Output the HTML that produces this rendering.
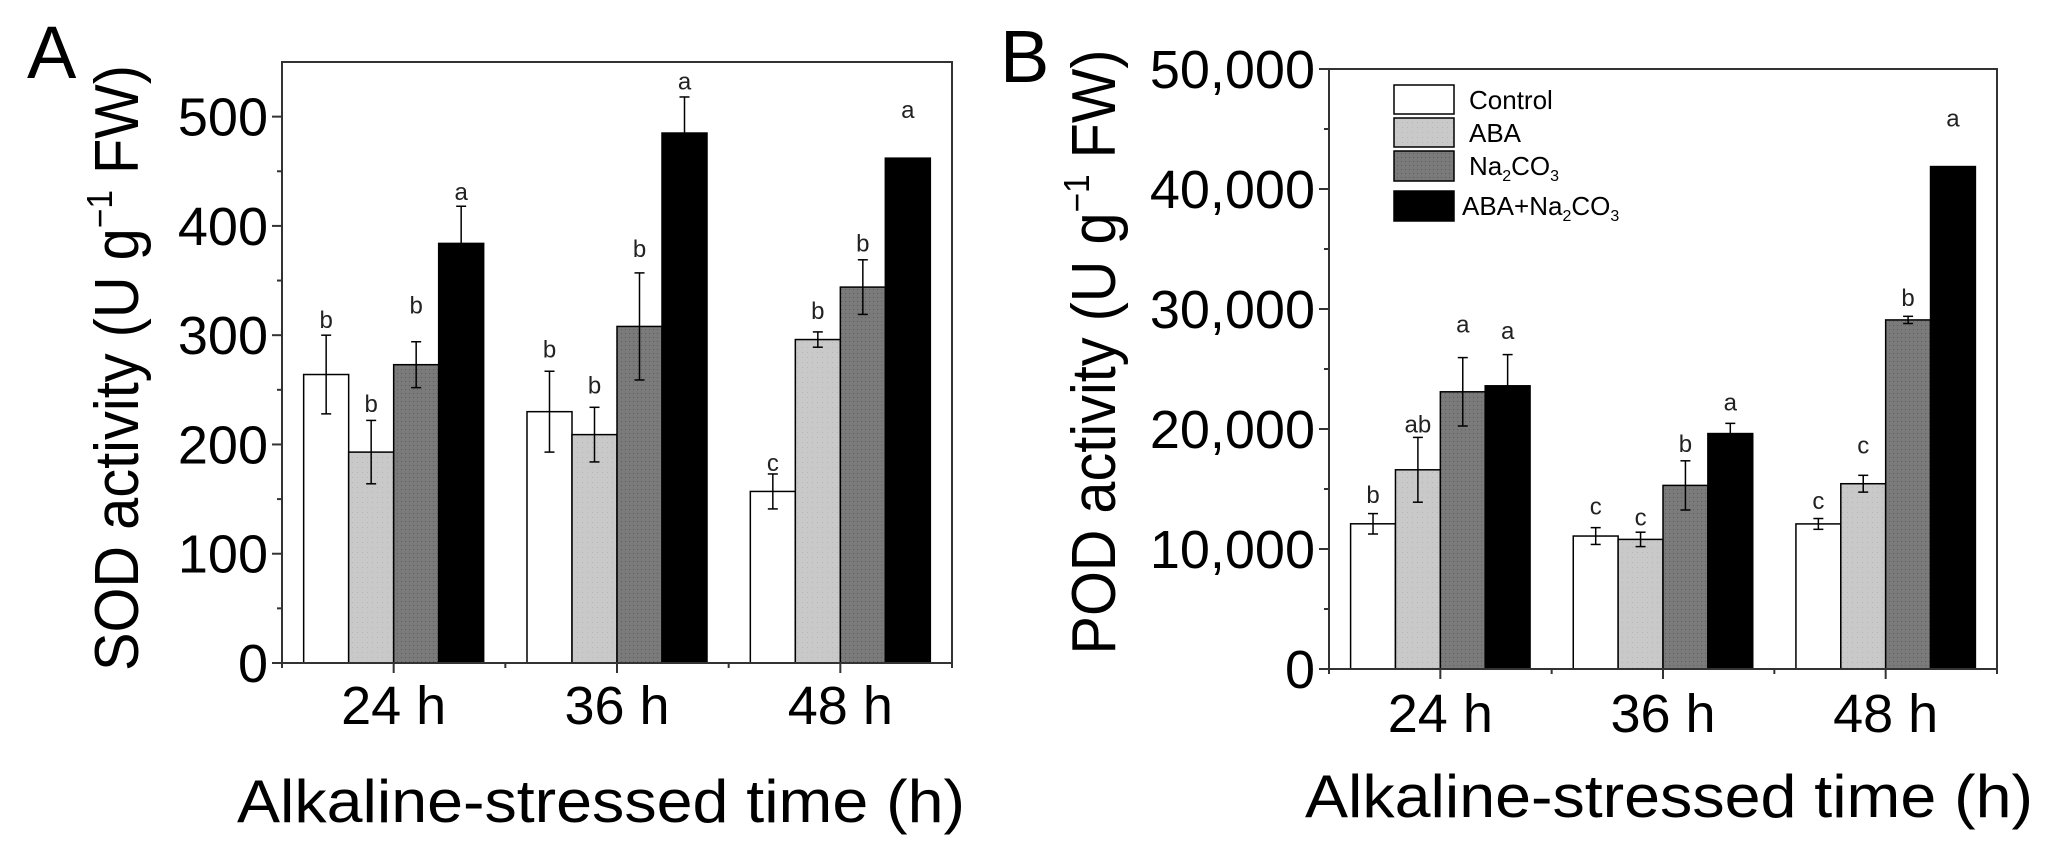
<!DOCTYPE html>
<html><head><meta charset="utf-8">
<style>
html,body{margin:0;padding:0;background:#fff;}
svg{display:block;font-family:"Liberation Sans",Arial,sans-serif;}
</style></head>
<body>
<svg id="fig" width="2058" height="866" viewBox="0 0 2058 866" xmlns="http://www.w3.org/2000/svg">
<defs>
<pattern id="dots" width="4" height="4" patternUnits="userSpaceOnUse">
<rect width="4" height="4" fill="#7a7a7a"/><rect x="1" y="1" width="1" height="1" fill="#5e5e5e"/>
</pattern>
<pattern id="dotsLight" width="5" height="5" patternUnits="userSpaceOnUse">
<rect width="5" height="5" fill="#c9c9c9"/><rect x="2" y="2" width="1" height="1" fill="#b8b8b8"/>
</pattern>
</defs>
<text x="27" y="78" font-size="74">A</text>
<text x="1000" y="82" font-size="74">B</text>
<g id="panelA"></g>
<g id="panelB"></g>
<g>
 <rect x="1394" y="85" width="60" height="29" fill="#fff" stroke="#000" stroke-width="1.5"/>
 <text x="1469" y="109" font-size="26">Control</text>
 <rect x="1394" y="118" width="60" height="29" fill="url(#dotsLight)" stroke="#000" stroke-width="1.5"/>
 <text x="1469" y="142" font-size="26">ABA</text>
 <rect x="1394" y="151" width="60" height="30" fill="url(#dots)" stroke="#000" stroke-width="1.5"/>
 <text x="1469" y="175" font-size="26">Na<tspan font-size="16" dy="6">2</tspan><tspan dy="-6">CO</tspan><tspan font-size="16" dy="6">3</tspan></text>
 <rect x="1394" y="191" width="60" height="30" fill="#000" stroke="#000" stroke-width="1.5"/>
 <text x="1462" y="215" font-size="26">ABA+Na<tspan font-size="16" dy="6">2</tspan><tspan dy="-6">CO</tspan><tspan font-size="16" dy="6">3</tspan></text>
</g>
</svg>
<script>
// ---- data ----
const categories = ["24 h", "36 h", "48 h"];
const seriesNames = ["Control", "ABA", "Na2CO3", "ABA+Na2CO3"];
// Panel A: SOD activity
const sodControl = [264, 230, 157];
const sodABA = [193, 209, 296];
const sodNa = [273, 308, 344];
const sodABANa = [384, 485, 462];
const sodErrControl = [36, 37, 16];
const sodErrABA = [29, 25, 7];
const sodErrNa = [21, 49, 25];
const sodErrABANa = [34, 33, 0];
const sodLetters = [["b","b","b","a"],["b","b","b","a"],["c","b","b","a"]];
const sodLetterY = [[314,237,327,431],[287,254,379,532],[183,322,384,506]];
const sodTicks = [0,100,200,300,400,500];
const sodTickLabels = ["0","100","200","300","400","500"];
// Panel B: POD activity
const podControl = [12100, 11080, 12090];
const podABA = [16600, 10800, 15440];
const podNa = [23100, 15300, 29090];
const podABANa = [23600, 19620, 41870];
const podErrControl = [850, 700, 450];
const podErrABA = [2700, 600, 700];
const podErrNa = [2850, 2050, 300];
const podErrABANa = [2600, 850, 0];
const podLetters = [["b","ab","a","a"],["c","c","b","a"],["c","c","b","a"]];
const podLetterY = [[14480,20360,28720,28170],[13560,12640,18750,22200],[14020,18610,30930,45860]];
const podTicks = [0,10000,20000,30000,40000,50000];
const podTickLabels = ["0","10,000","20,000","30,000","40,000","50,000"];

const NS = "http://www.w3.org/2000/svg";
const fills = ["#ffffff","url(#dotsLight)","url(#dots)","#000000"];
function mk(parent, tag, attrs){
  const e = document.createElementNS(NS, tag);
  for (const k in attrs) e.setAttribute(k, attrs[k]);
  parent.appendChild(e);
  return e;
}
function drawPanel(g, cfg){
  const {left,right,top,bottom,ymax,series,errs,letters,letterY,ticks,tickLabels,minorStep,catY,title,titleCx,titleCy,titleLen,xTitleX,xTitleY} = cfg;
  const band = (right-left)/categories.length;
  const xs = i => left + band*(i+0.5);
  const ys = v => bottom - (v/ymax)*(bottom-top);
  const bw = band*0.806/4;
  // bars
  for (let c=0;c<categories.length;c++){
    for (let s=0;s<4;s++){
      const v = series[s][c];
      const x0 = xs(c) - 2*bw + s*bw;
      const r = mk(g,"rect",{x:x0,y:ys(v),width:bw,height:bottom-ys(v),fill:fills[s],stroke:"#000","stroke-width":1.5});
      
      
      const e = errs[s][c];
      const cx = x0 + bw/2;
      const col = s===3 ? "#000" : "#000";
      if (e>0){
        const eg = mk(g,"g",{stroke:col,"stroke-width":1.5});
        
        
        mk(eg,"line",{x1:cx,x2:cx,y1:ys(v+e),y2:ys(v-e)});
        mk(eg,"line",{x1:cx-5,x2:cx+5,y1:ys(v+e),y2:ys(v+e)});
        mk(eg,"line",{x1:cx-5,x2:cx+5,y1:ys(v-e),y2:ys(v-e)});
      }
      const t = mk(g,"text",{x:cx,y:ys(letterY[c][s])+8,"font-size":24,"text-anchor":"middle",fill:"#222"});
      t.textContent = letters[c][s];
      
      
    }
  }
  // frame
  const fr = mk(g,"rect",{x:left,y:top,width:right-left,height:bottom-top,fill:"none",stroke:"#333","stroke-width":2});
  
  
  // y ticks
  for (let i=0;i<ticks.length;i++){
    const y = ys(ticks[i]);
    mk(g,"line",{x1:left-10,x2:left,y1:y,y2:y,stroke:"#333","stroke-width":2});
    const t = mk(g,"text",{x:left-14,y:y+19,"font-size":54,"text-anchor":"end"});
    t.textContent = tickLabels[i];
    
    
    if (i<ticks.length-1){
      const ym = ys(ticks[i]+minorStep);
      mk(g,"line",{x1:left-5,x2:left,y1:ym,y2:ym,stroke:"#333","stroke-width":2});
    }
  }
  // x ticks
  for (let c=0;c<categories.length;c++){
    mk(g,"line",{x1:xs(c),x2:xs(c),y1:bottom,y2:bottom+10,stroke:"#333","stroke-width":2});
    const t = mk(g,"text",{x:xs(c),y:catY,"font-size":54,"text-anchor":"middle"});
    t.textContent = categories[c];
    
    
  }
  for (let c=0;c<=categories.length;c++){
    const x = left + band*c;
    mk(g,"line",{x1:x,x2:x,y1:bottom,y2:bottom+5,stroke:"#333","stroke-width":2});
  }
  // titles
  const yt = mk(g,"text",{x:0,y:0,"font-size":62,"text-anchor":"middle",transform:`translate(${titleCx},${titleCy}) rotate(-90)`,textLength:titleLen,lengthAdjust:"spacingAndGlyphs"});
  yt.innerHTML = title + ' (U g<tspan font-size="36" dy="-26">−1</tspan><tspan dy="26"> FW)</tspan>';
  
  
  const xt = mk(g,"text",{x:xTitleX,y:xTitleY,"font-size":60,textLength:728,lengthAdjust:"spacingAndGlyphs"});
  xt.textContent = "Alkaline-stressed time (h)";
  
  
}
drawPanel(document.getElementById("panelA"),{
  left:282,right:952,top:62,bottom:663,ymax:550,
  series:[sodControl,sodABA,sodNa,sodABANa],
  errs:[sodErrControl,sodErrABA,sodErrNa,sodErrABANa],
  letters:sodLetters,letterY:sodLetterY,ticks:sodTicks,tickLabels:sodTickLabels,minorStep:50,
  catY:724,title:"SOD activity",titleCx:138,titleCy:368,titleLen:606,xTitleX:237,xTitleY:822
});
drawPanel(document.getElementById("panelB"),{
  left:1329,right:1997,top:69,bottom:669,ymax:50000,
  series:[podControl,podABA,podNa,podABANa],
  errs:[podErrControl,podErrABA,podErrNa,podErrABANa],
  letters:podLetters,letterY:podLetterY,ticks:podTicks,tickLabels:podTickLabels,minorStep:5000,
  catY:732,title:"POD activity",titleCx:1115,titleCy:352,titleLen:605,xTitleX:1305,xTitleY:817
});
</script>
</body></html>
